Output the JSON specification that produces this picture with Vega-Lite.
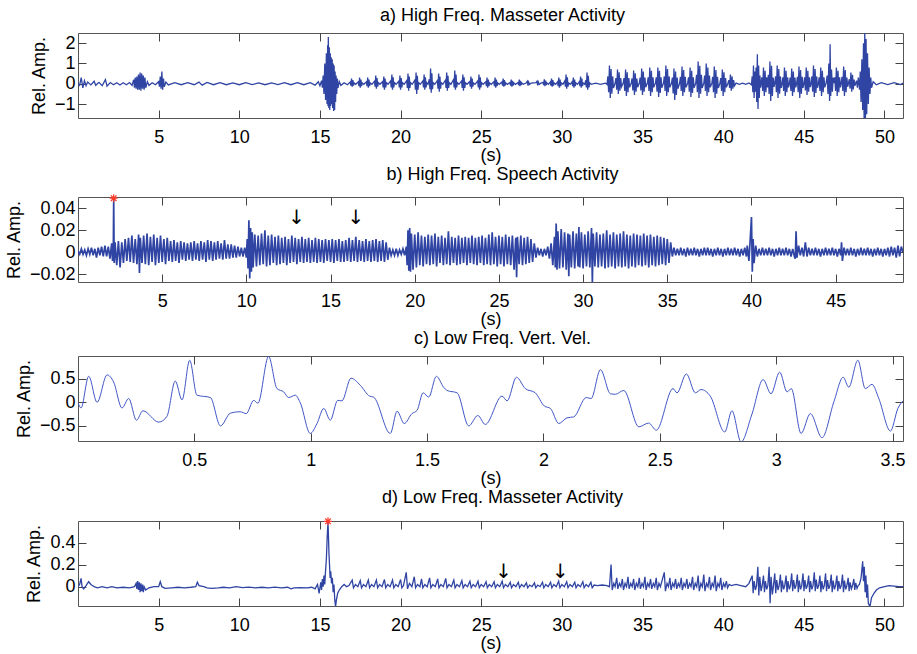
{
"$schema":"https://vega.github.io/schema/vega-lite/v6.json",
"background":"white",
"padding":{"left":4,"top":6,"right":0,"bottom":0},
"config":{
"font":"Liberation Sans",
"view":{"stroke":"#555","strokeWidth":1},
"axis":{"grid":false,"domain":false,"tickColor":"#444","tickSize":-8,"tickWidth":1,"labelFontSize":18,"labelColor":"#000","labelFont":"Liberation Sans","titleFontSize":18,"titleFontWeight":"normal","titleColor":"#000","titleFont":"Liberation Sans","labelFlush":false,"labelOverlap":false},
"axisX":{"titlePadding":0,"labelPadding":18},
"axisY":{"titlePadding":6,"labelPadding":11},
"title":{"fontSize":18,"fontWeight":"normal","color":"#000","font":"Liberation Sans","dx":12,"offset":8},
"concat":{"spacing":0}
},
"datasets":{
"a":[{"t":0,"v":0.02},{"t":0.1,"v":-0.08},{"t":0.2,"v":0.3},{"t":0.3,"v":-0.2},{"t":0.4,"v":0.15},{"t":0.5,"v":-0.1},{"t":0.6,"v":0.08},{"t":0.8,"v":-0.06},{"t":1.0,"v":0.12},{"t":1.1,"v":-0.08},{"t":1.3,"v":0.07},{"t":1.5,"v":-0.1},{"t":1.7,"v":0.2},{"t":1.8,"v":-0.12},{"t":2.0,"v":0.06},{"t":2.2,"v":-0.05},{"t":2.4,"v":0.05},{"t":2.6,"v":-0.06},{"t":2.8,"v":0.05},{"t":3.0,"v":-0.05},{"t":3.2,"v":0.06},{"t":3.35,"v":-0.08},
{"t":3.45,"v":0.2},{"t":3.5,"v":-0.2},{"t":3.55,"v":0.3},{"t":3.6,"v":-0.25},{"t":3.65,"v":0.35},{"t":3.7,"v":-0.3},{"t":3.75,"v":0.45},{"t":3.8,"v":-0.3},{"t":3.85,"v":0.55},{"t":3.9,"v":-0.35},{"t":3.95,"v":0.5},{"t":4.0,"v":-0.25},{"t":4.05,"v":0.4},{"t":4.1,"v":-0.3},{"t":4.15,"v":0.3},{"t":4.2,"v":-0.2},{"t":4.3,"v":0.1},{"t":4.4,"v":-0.08},{"t":4.6,"v":0.05},{"t":4.8,"v":-0.05},
{"t":5.0,"v":0.1},{"t":5.05,"v":-0.15},{"t":5.1,"v":0.35},{"t":5.15,"v":-0.25},{"t":5.2,"v":0.6},{"t":5.25,"v":-0.3},{"t":5.3,"v":0.25},{"t":5.35,"v":-0.15},{"t":5.45,"v":0.08},{"t":5.6,"v":-0.06},
{"t":6.0,"v":0.05},{"t":6.4,"v":-0.05},{"t":6.8,"v":0.05},{"t":7.2,"v":-0.05},{"t":7.5,"v":0.08},{"t":7.7,"v":-0.07},{"t":8.0,"v":0.06},{"t":8.4,"v":-0.05},{"t":8.8,"v":0.05},{"t":9.2,"v":-0.05},{"t":9.6,"v":0.04},{"t":10.0,"v":-0.05},{"t":10.4,"v":0.05},{"t":10.8,"v":-0.04},{"t":11.2,"v":0.04},{"t":11.6,"v":-0.05},{"t":12.0,"v":0.04},{"t":12.4,"v":-0.04},{"t":12.8,"v":0.05},{"t":13.2,"v":-0.05},{"t":13.6,"v":0.05},{"t":14.0,"v":-0.05},{"t":14.4,"v":0.05},{"t":14.7,"v":-0.07},{"t":14.9,"v":0.1},{"t":15.0,"v":-0.1},{"t":15.1,"v":0.15},{"t":15.15,"v":-0.2},
{"t":15.2,"v":0.4},{"t":15.25,"v":-0.5},{"t":15.3,"v":1.0},{"t":15.35,"v":-0.8},{"t":15.4,"v":1.5},{"t":15.44,"v":-1.0},{"t":15.48,"v":1.9},{"t":15.5,"v":-1.1},{"t":15.52,"v":2.3},{"t":15.55,"v":-1.2},{"t":15.58,"v":1.8},{"t":15.61,"v":-1.3},{"t":15.64,"v":1.5},{"t":15.67,"v":-1.1},{"t":15.7,"v":1.3},{"t":15.73,"v":-1.0},{"t":15.76,"v":1.2},{"t":15.79,"v":-1.2},{"t":15.82,"v":1.0},{"t":15.85,"v":-1.35},{"t":15.88,"v":0.9},{"t":15.91,"v":-1.3},{"t":15.94,"v":0.6},{"t":15.97,"v":-0.9},{"t":16.0,"v":0.4},{"t":16.04,"v":-0.5},{"t":16.08,"v":0.25},{"t":16.12,"v":-0.2},{"t":16.2,"v":0.1},{"t":16.3,"v":-0.08},{"t":16.5,"v":0.05},{"t":16.7,"v":-0.05},
{"t":16.88,"v":0.08},{"t":16.92,"v":-0.09},{"t":16.96,"v":0.25},{"t":17.0,"v":-0.15},{"t":17.04,"v":0.18},{"t":17.08,"v":-0.09},{"t":17.12,"v":0.04},{"t":17.22,"v":-0.03},
{"t":17.38,"v":0.09},{"t":17.42,"v":-0.12},{"t":17.46,"v":0.3},{"t":17.5,"v":-0.2},{"t":17.54,"v":0.21},{"t":17.58,"v":-0.12},{"t":17.62,"v":0.04},{"t":17.72,"v":-0.03},
{"t":17.88,"v":0.09},{"t":17.92,"v":-0.12},{"t":17.96,"v":0.3},{"t":18.0,"v":-0.2},{"t":18.04,"v":0.21},{"t":18.08,"v":-0.12},{"t":18.12,"v":0.04},{"t":18.22,"v":-0.03},
{"t":18.38,"v":0.12},{"t":18.42,"v":-0.15},{"t":18.46,"v":0.4},{"t":18.5,"v":-0.25},{"t":18.54,"v":0.28},{"t":18.58,"v":-0.15},{"t":18.62,"v":0.05},{"t":18.72,"v":-0.03},
{"t":18.88,"v":0.1},{"t":18.92,"v":-0.18},{"t":18.96,"v":0.35},{"t":19.0,"v":-0.3},{"t":19.04,"v":0.25},{"t":19.08,"v":-0.18},{"t":19.12,"v":0.05},{"t":19.22,"v":-0.03},
{"t":19.38,"v":0.14},{"t":19.42,"v":-0.18},{"t":19.46,"v":0.45},{"t":19.5,"v":-0.3},{"t":19.54,"v":0.32},{"t":19.58,"v":-0.18},{"t":19.62,"v":0.05},{"t":19.72,"v":-0.03},
{"t":19.88,"v":0.12},{"t":19.92,"v":-0.18},{"t":19.96,"v":0.4},{"t":20.0,"v":-0.3},{"t":20.04,"v":0.28},{"t":20.08,"v":-0.18},{"t":20.12,"v":0.05},{"t":20.22,"v":-0.03},
{"t":20.38,"v":0.15},{"t":20.42,"v":-0.21},{"t":20.46,"v":0.5},{"t":20.5,"v":-0.35},{"t":20.54,"v":0.35},{"t":20.58,"v":-0.21},{"t":20.62,"v":0.05},{"t":20.72,"v":-0.03},
{"t":20.88,"v":0.17},{"t":20.92,"v":-0.3},{"t":20.96,"v":0.55},{"t":21.0,"v":-0.5},{"t":21.04,"v":0.39},{"t":21.08,"v":-0.3},{"t":21.12,"v":0.05},{"t":21.22,"v":-0.03},
{"t":21.38,"v":0.14},{"t":21.42,"v":-0.18},{"t":21.46,"v":0.45},{"t":21.5,"v":-0.3},{"t":21.54,"v":0.32},{"t":21.58,"v":-0.18},{"t":21.62,"v":0.05},{"t":21.7,"v":-0.03},
{"t":21.78,"v":0.22},{"t":21.82,"v":-0.27},{"t":21.86,"v":0.75},{"t":21.9,"v":-0.45},{"t":21.94,"v":0.52},{"t":21.98,"v":-0.27},{"t":22.02,"v":0.05},{"t":22.12,"v":-0.03},
{"t":22.28,"v":0.15},{"t":22.32,"v":-0.24},{"t":22.36,"v":0.5},{"t":22.4,"v":-0.4},{"t":22.44,"v":0.35},{"t":22.48,"v":-0.24},{"t":22.52,"v":0.05},{"t":22.62,"v":-0.03},
{"t":22.78,"v":0.17},{"t":22.82,"v":-0.21},{"t":22.86,"v":0.55},{"t":22.9,"v":-0.35},{"t":22.94,"v":0.39},{"t":22.98,"v":-0.21},{"t":23.02,"v":0.05},{"t":23.12,"v":-0.03},
{"t":23.28,"v":0.2},{"t":23.32,"v":-0.18},{"t":23.36,"v":0.65},{"t":23.4,"v":-0.3},{"t":23.44,"v":0.45},{"t":23.48,"v":-0.18},{"t":23.52,"v":0.05},{"t":23.62,"v":-0.03},
{"t":23.78,"v":0.14},{"t":23.82,"v":-0.21},{"t":23.86,"v":0.45},{"t":23.9,"v":-0.35},{"t":23.94,"v":0.32},{"t":23.98,"v":-0.21},{"t":24.02,"v":0.05},{"t":24.12,"v":-0.03},
{"t":24.28,"v":0.1},{"t":24.32,"v":-0.15},{"t":24.36,"v":0.35},{"t":24.4,"v":-0.25},{"t":24.44,"v":0.25},{"t":24.48,"v":-0.15},{"t":24.52,"v":0.04},{"t":24.62,"v":-0.03},
{"t":24.78,"v":0.14},{"t":24.82,"v":-0.18},{"t":24.86,"v":0.45},{"t":24.9,"v":-0.3},{"t":24.94,"v":0.32},{"t":24.98,"v":-0.18},{"t":25.02,"v":0.05},{"t":25.12,"v":-0.03},
{"t":25.28,"v":0.09},{"t":25.32,"v":-0.12},{"t":25.36,"v":0.3},{"t":25.4,"v":-0.2},{"t":25.44,"v":0.21},{"t":25.48,"v":-0.12},{"t":25.52,"v":0.04},{"t":25.62,"v":-0.03},
{"t":25.78,"v":0.09},{"t":25.82,"v":-0.12},{"t":25.86,"v":0.3},{"t":25.9,"v":-0.2},{"t":25.94,"v":0.21},{"t":25.98,"v":-0.12},{"t":26.02,"v":0.04},{"t":26.12,"v":-0.03},
{"t":26.28,"v":0.08},{"t":26.32,"v":-0.09},{"t":26.36,"v":0.25},{"t":26.4,"v":-0.15},{"t":26.44,"v":0.18},{"t":26.48,"v":-0.09},{"t":26.52,"v":0.04},{"t":26.62,"v":-0.03},
{"t":26.78,"v":0.06},{"t":26.82,"v":-0.09},{"t":26.86,"v":0.2},{"t":26.9,"v":-0.15},{"t":26.94,"v":0.14},{"t":26.98,"v":-0.09},{"t":27.02,"v":0.04},{"t":27.12,"v":-0.03},
{"t":27.28,"v":0.06},{"t":27.32,"v":-0.07},{"t":27.36,"v":0.2},{"t":27.4,"v":-0.12},{"t":27.44,"v":0.14},{"t":27.48,"v":-0.07},{"t":27.52,"v":0.03},{"t":27.62,"v":-0.03},
{"t":27.8,"v":0.05},{"t":27.86,"v":0.12},{"t":27.9,"v":-0.1},{"t":27.94,"v":0.08},{"t":28.0,"v":-0.04},{"t":28.1,"v":0.03},
{"t":28.4,"v":0.05},{"t":28.46,"v":0.12},{"t":28.5,"v":-0.08},{"t":28.54,"v":0.08},{"t":28.6,"v":-0.04},{"t":28.7,"v":0.03},
{"t":28.83,"v":0.07},{"t":28.87,"v":-0.07},{"t":28.91,"v":0.22},{"t":28.95,"v":-0.12},{"t":28.99,"v":0.15},{"t":29.03,"v":-0.07},{"t":29.07,"v":0.04},{"t":29.17,"v":-0.03},
{"t":29.28,"v":0.08},{"t":29.32,"v":-0.09},{"t":29.36,"v":0.25},{"t":29.4,"v":-0.15},{"t":29.44,"v":0.18},{"t":29.48,"v":-0.09},{"t":29.52,"v":0.04},{"t":29.62,"v":-0.03},
{"t":29.73,"v":0.09},{"t":29.77,"v":-0.12},{"t":29.81,"v":0.3},{"t":29.85,"v":-0.2},{"t":29.89,"v":0.21},{"t":29.93,"v":-0.12},{"t":29.97,"v":0.04},{"t":30.07,"v":-0.03},
{"t":30.18,"v":0.14},{"t":30.22,"v":-0.15},{"t":30.26,"v":0.45},{"t":30.3,"v":-0.25},{"t":30.34,"v":0.32},{"t":30.38,"v":-0.15},{"t":30.42,"v":0.04},{"t":30.52,"v":-0.03},
{"t":30.63,"v":0.09},{"t":30.67,"v":-0.12},{"t":30.71,"v":0.3},{"t":30.75,"v":-0.2},{"t":30.79,"v":0.21},{"t":30.83,"v":-0.12},{"t":30.87,"v":0.04},{"t":30.97,"v":-0.03},
{"t":31.08,"v":0.1},{"t":31.12,"v":-0.12},{"t":31.16,"v":0.35},{"t":31.2,"v":-0.2},{"t":31.24,"v":0.25},{"t":31.28,"v":-0.12},{"t":31.32,"v":0.04},{"t":31.42,"v":-0.03},
{"t":31.48,"v":0.17},{"t":31.52,"v":-0.18},{"t":31.56,"v":0.55},{"t":31.6,"v":-0.3},{"t":31.64,"v":0.39},{"t":31.68,"v":-0.18},{"t":31.72,"v":0.04},{"t":31.82,"v":-0.03},
{"t":32.1,"v":0.03},{"t":32.4,"v":-0.03},{"t":32.7,"v":0.03},{"t":32.8,"v":-0.04},
{"t":32.85,"v":0.36},{"t":32.9,"v":-0.42},{"t":32.95,"v":0.9},{"t":33.0,"v":-0.7},{"t":33.05,"v":0.72},{"t":33.1,"v":-0.49},{"t":33.15,"v":0.36},{"t":33.2,"v":-0.21},{"t":33.3,"v":0.03},
{"t":33.35,"v":0.28},{"t":33.4,"v":-0.3},{"t":33.45,"v":0.7},{"t":33.5,"v":-0.5},{"t":33.55,"v":0.56},{"t":33.6,"v":-0.35},{"t":33.65,"v":0.28},{"t":33.7,"v":-0.15},{"t":33.8,"v":0.03},
{"t":33.85,"v":0.28},{"t":33.9,"v":-0.36},{"t":33.95,"v":0.7},{"t":34.0,"v":-0.6},{"t":34.05,"v":0.56},{"t":34.1,"v":-0.42},{"t":34.15,"v":0.28},{"t":34.2,"v":-0.18},{"t":34.3,"v":0.03},
{"t":34.35,"v":0.26},{"t":34.4,"v":-0.33},{"t":34.45,"v":0.65},{"t":34.5,"v":-0.55},{"t":34.55,"v":0.52},{"t":34.6,"v":-0.39},{"t":34.65,"v":0.26},{"t":34.7,"v":-0.17},{"t":34.8,"v":0.03},
{"t":34.85,"v":0.3},{"t":34.9,"v":-0.33},{"t":34.95,"v":0.75},{"t":35.0,"v":-0.55},{"t":35.05,"v":0.6},{"t":35.1,"v":-0.39},{"t":35.15,"v":0.3},{"t":35.2,"v":-0.17},{"t":35.3,"v":0.03},
{"t":35.35,"v":0.32},{"t":35.4,"v":-0.36},{"t":35.45,"v":0.8},{"t":35.5,"v":-0.6},{"t":35.55,"v":0.64},{"t":35.6,"v":-0.42},{"t":35.65,"v":0.32},{"t":35.7,"v":-0.18},{"t":35.8,"v":0.03},
{"t":35.85,"v":0.32},{"t":35.9,"v":-0.39},{"t":35.95,"v":0.8},{"t":36.0,"v":-0.65},{"t":36.05,"v":0.64},{"t":36.1,"v":-0.46},{"t":36.15,"v":0.32},{"t":36.2,"v":-0.2},{"t":36.3,"v":0.03},
{"t":36.35,"v":0.36},{"t":36.4,"v":-0.36},{"t":36.45,"v":0.9},{"t":36.5,"v":-0.6},{"t":36.55,"v":0.72},{"t":36.6,"v":-0.42},{"t":36.65,"v":0.36},{"t":36.7,"v":-0.18},{"t":36.8,"v":0.03},
{"t":36.85,"v":0.3},{"t":36.9,"v":-0.48},{"t":36.95,"v":0.75},{"t":37.0,"v":-0.8},{"t":37.05,"v":0.6},{"t":37.1,"v":-0.56},{"t":37.15,"v":0.3},{"t":37.2,"v":-0.24},{"t":37.3,"v":0.03},
{"t":37.35,"v":0.34},{"t":37.4,"v":-0.36},{"t":37.45,"v":0.85},{"t":37.5,"v":-0.6},{"t":37.55,"v":0.68},{"t":37.6,"v":-0.42},{"t":37.65,"v":0.34},{"t":37.7,"v":-0.18},{"t":37.8,"v":0.03},
{"t":37.85,"v":0.32},{"t":37.9,"v":-0.39},{"t":37.95,"v":0.8},{"t":38.0,"v":-0.65},{"t":38.05,"v":0.64},{"t":38.1,"v":-0.46},{"t":38.15,"v":0.32},{"t":38.2,"v":-0.2},{"t":38.3,"v":0.03},
{"t":38.35,"v":0.44},{"t":38.4,"v":-0.42},{"t":38.45,"v":1.1},{"t":38.5,"v":-0.7},{"t":38.55,"v":0.88},{"t":38.6,"v":-0.49},{"t":38.65,"v":0.44},{"t":38.7,"v":-0.21},{"t":38.8,"v":0.03},
{"t":38.85,"v":0.4},{"t":38.9,"v":-0.36},{"t":38.95,"v":1.0},{"t":39.0,"v":-0.6},{"t":39.05,"v":0.8},{"t":39.1,"v":-0.42},{"t":39.15,"v":0.4},{"t":39.2,"v":-0.18},{"t":39.3,"v":0.03},
{"t":39.35,"v":0.34},{"t":39.4,"v":-0.42},{"t":39.45,"v":0.85},{"t":39.5,"v":-0.7},{"t":39.55,"v":0.68},{"t":39.6,"v":-0.49},{"t":39.65,"v":0.34},{"t":39.7,"v":-0.21},{"t":39.8,"v":0.03},
{"t":39.85,"v":0.28},{"t":39.9,"v":-0.36},{"t":39.95,"v":0.7},{"t":40.0,"v":-0.6},{"t":40.05,"v":0.56},{"t":40.1,"v":-0.42},{"t":40.15,"v":0.28},{"t":40.2,"v":-0.18},{"t":40.3,"v":0.03},
{"t":40.35,"v":0.18},{"t":40.4,"v":-0.21},{"t":40.45,"v":0.45},{"t":40.5,"v":-0.35},{"t":40.55,"v":0.36},{"t":40.6,"v":-0.25},{"t":40.65,"v":0.18},{"t":40.7,"v":-0.1},{"t":40.8,"v":0.03},
{"t":41.0,"v":-0.03},{"t":41.2,"v":0.03},{"t":41.4,"v":-0.03},{"t":41.6,"v":0.04},{"t":41.75,"v":-0.05},
{"t":41.8,"v":0.36},{"t":41.84,"v":-0.42},{"t":41.88,"v":0.9},{"t":41.92,"v":-0.7},{"t":41.96,"v":0.6},{"t":42.0,"v":-0.4},
{"t":42.04,"v":0.8},{"t":42.08,"v":-0.9},{"t":42.12,"v":1.45},{"t":42.16,"v":-1.25},{"t":42.2,"v":0.9},{"t":42.24,"v":-0.7},{"t":42.28,"v":0.4},{"t":42.32,"v":-0.2},{"t":42.36,"v":0.03},
{"t":42.4,"v":0.32},{"t":42.45,"v":-0.36},{"t":42.5,"v":0.8},{"t":42.55,"v":-0.6},{"t":42.6,"v":0.64},{"t":42.65,"v":-0.42},{"t":42.7,"v":0.32},{"t":42.75,"v":-0.18},
{"t":42.8,"v":0.44},{"t":42.85,"v":-0.5},{"t":42.9,"v":1.1},{"t":42.95,"v":-0.85},{"t":43.0,"v":0.88},{"t":43.05,"v":-0.6},{"t":43.1,"v":0.3},{"t":43.15,"v":-0.15},{"t":43.2,"v":0.03},
{"t":43.25,"v":0.36},{"t":43.3,"v":-0.42},{"t":43.35,"v":0.9},{"t":43.4,"v":-0.7},{"t":43.45,"v":0.72},{"t":43.5,"v":-0.49},{"t":43.55,"v":0.36},{"t":43.6,"v":-0.21},{"t":43.66,"v":0.03},
{"t":43.7,"v":0.32},{"t":43.75,"v":-0.36},{"t":43.8,"v":0.8},{"t":43.85,"v":-0.6},{"t":43.9,"v":0.64},{"t":43.95,"v":-0.42},{"t":44.0,"v":0.32},{"t":44.05,"v":-0.18},{"t":44.11,"v":0.03},
{"t":44.15,"v":0.3},{"t":44.2,"v":-0.36},{"t":44.25,"v":0.75},{"t":44.3,"v":-0.6},{"t":44.35,"v":0.6},{"t":44.4,"v":-0.42},{"t":44.45,"v":0.3},{"t":44.5,"v":-0.18},{"t":44.56,"v":0.03},
{"t":44.6,"v":0.34},{"t":44.65,"v":-0.42},{"t":44.7,"v":0.85},{"t":44.75,"v":-0.7},{"t":44.8,"v":0.68},{"t":44.85,"v":-0.49},{"t":44.9,"v":0.34},{"t":44.95,"v":-0.21},{"t":45.01,"v":0.03},
{"t":45.05,"v":0.32},{"t":45.1,"v":-0.33},{"t":45.15,"v":0.8},{"t":45.2,"v":-0.55},{"t":45.25,"v":0.64},{"t":45.3,"v":-0.39},{"t":45.35,"v":0.32},{"t":45.4,"v":-0.17},{"t":45.46,"v":0.03},
{"t":45.5,"v":0.36},{"t":45.55,"v":-0.39},{"t":45.6,"v":0.9},{"t":45.65,"v":-0.65},{"t":45.7,"v":0.72},{"t":45.75,"v":-0.46},{"t":45.8,"v":0.36},{"t":45.85,"v":-0.2},{"t":45.91,"v":0.03},
{"t":45.95,"v":0.32},{"t":46.0,"v":-0.36},{"t":46.05,"v":0.8},{"t":46.1,"v":-0.6},{"t":46.15,"v":0.64},{"t":46.2,"v":-0.42},{"t":46.25,"v":0.32},{"t":46.3,"v":-0.18},{"t":46.38,"v":0.03},
{"t":46.45,"v":0.4},{"t":46.5,"v":-0.5},{"t":46.55,"v":1.0},{"t":46.6,"v":-0.85},{"t":46.63,"v":1.95},{"t":46.67,"v":-0.6},{"t":46.72,"v":0.7},{"t":46.77,"v":-0.4},{"t":46.82,"v":0.3},{"t":46.87,"v":0.03},
{"t":46.92,"v":0.32},{"t":46.97,"v":-0.36},{"t":47.02,"v":0.8},{"t":47.07,"v":-0.6},{"t":47.12,"v":0.64},{"t":47.17,"v":-0.42},{"t":47.22,"v":0.32},{"t":47.27,"v":-0.18},{"t":47.32,"v":0.03},
{"t":47.37,"v":0.34},{"t":47.42,"v":-0.36},{"t":47.47,"v":0.85},{"t":47.52,"v":-0.6},{"t":47.57,"v":0.68},{"t":47.62,"v":-0.42},{"t":47.67,"v":0.3},{"t":47.72,"v":-0.15},{"t":47.77,"v":0.03},
{"t":47.82,"v":0.22},{"t":47.87,"v":-0.24},{"t":47.92,"v":0.55},{"t":47.97,"v":-0.4},{"t":48.02,"v":0.44},{"t":48.07,"v":-0.28},{"t":48.12,"v":0.2},{"t":48.17,"v":-0.1},{"t":48.22,"v":0.03},
{"t":48.27,"v":0.15},{"t":48.32,"v":-0.2},{"t":48.38,"v":0.3},{"t":48.45,"v":-0.3},
{"t":48.5,"v":0.6},{"t":48.55,"v":-0.9},{"t":48.6,"v":1.2},{"t":48.65,"v":-1.3},{"t":48.7,"v":2.0},{"t":48.74,"v":-1.75},{"t":48.78,"v":2.6},{"t":48.82,"v":-1.8},{"t":48.86,"v":2.2},{"t":48.9,"v":-1.5},{"t":48.95,"v":1.5},{"t":49.0,"v":-1.0},{"t":49.05,"v":0.8},{"t":49.1,"v":-0.5},{"t":49.15,"v":0.3},{"t":49.2,"v":-0.2},{"t":49.3,"v":0.1},{"t":49.5,"v":-0.05},{"t":49.8,"v":0.05},{"t":50.2,"v":-0.04},{"t":50.6,"v":0.05},{"t":51.0,"v":-0.04},{"t":51.15,"v":0.03}],
"b":[{"t":0.0,"v":0.001},{"t":0.1,"v":-0.002},{"t":0.2,"v":0.003},{"t":0.3,"v":-0.002},{"t":0.4,"v":0.002},{"t":0.5,"v":-0.003},{"t":0.6,"v":0.003},{"t":0.7,"v":-0.002},{"t":0.8,"v":0.004},{"t":0.9,"v":-0.003},{"t":1.0,"v":0.003},{"t":1.1,"v":-0.005},{"t":1.2,"v":0.004},{"t":1.3,"v":-0.003},{"t":1.4,"v":0.005},{"t":1.5,"v":-0.004},{"t":1.6,"v":0.006},{"t":1.7,"v":-0.004},{"t":1.8,"v":0.005},{"t":1.9,"v":-0.006},{"t":2.0,"v":0.008},{"t":2.05,"v":-0.008},{"t":2.1,"v":0.006},{"t":2.12,"v":0.049},{"t":2.15,"v":-0.01},{"t":2.2,"v":0.009},{"t":2.3,"v":-0.012},{"t":2.4,"v":0.01},{"t":2.5,"v":-0.014},{"t":2.6,"v":0.009},{"t":2.7,"v":-0.01},{"t":2.8,"v":0.012},{"t":2.9,"v":-0.008},{"t":3.0,"v":0.013},{"t":3.1,"v":-0.009},{"t":3.2,"v":0.015},{"t":3.3,"v":-0.01},{"t":3.4,"v":0.012},{"t":3.5,"v":-0.011},{"t":3.6,"v":0.016},{"t":3.65,"v":-0.019},{"t":3.7,"v":0.013},{"t":3.8,"v":-0.01},{"t":3.9,"v":0.015},{"t":4.0,"v":-0.011},{"t":4.1,"v":0.017},{"t":4.2,"v":-0.012},{"t":4.3,"v":0.014},{"t":4.4,"v":-0.009},{"t":4.5,"v":0.016},{"t":4.6,"v":-0.012},{"t":4.7,"v":0.013},{"t":4.8,"v":-0.01},{"t":4.9,"v":0.015},{"t":5.0,"v":-0.009},{"t":5.1,"v":0.012},{"t":5.2,"v":-0.011},{"t":5.3,"v":0.013},{"t":5.4,"v":-0.008},{"t":5.5,"v":0.01},{"t":5.6,"v":-0.009},{"t":5.7,"v":0.011},{"t":5.8,"v":-0.008},{"t":5.9,"v":0.009},{"t":6.0,"v":-0.01},{"t":6.1,"v":0.01},{"t":6.2,"v":-0.007},{"t":6.3,"v":0.009},{"t":6.4,"v":-0.008},{"t":6.5,"v":0.008},{"t":6.6,"v":-0.007},{"t":6.7,"v":0.009},{"t":6.8,"v":-0.008},{"t":6.9,"v":0.01},{"t":7.0,"v":-0.007},{"t":7.1,"v":0.008},{"t":7.2,"v":-0.008},{"t":7.3,"v":0.01},{"t":7.4,"v":-0.007},{"t":7.5,"v":0.009},{"t":7.6,"v":-0.009},{"t":7.7,"v":0.011},{"t":7.8,"v":-0.007},{"t":7.9,"v":0.01},{"t":8.0,"v":-0.008},{"t":8.1,"v":0.009},{"t":8.2,"v":-0.007},{"t":8.3,"v":0.01},{"t":8.4,"v":-0.006},{"t":8.5,"v":0.008},{"t":8.6,"v":-0.007},{"t":8.7,"v":0.011},{"t":8.8,"v":-0.006},{"t":8.9,"v":0.007},{"t":9.0,"v":-0.006},{"t":9.1,"v":0.007},{"t":9.2,"v":-0.005},{"t":9.3,"v":0.006},{"t":9.4,"v":-0.005},{"t":9.5,"v":0.005},{"t":9.6,"v":-0.004},{"t":9.7,"v":0.004},{"t":9.8,"v":-0.004},{"t":9.9,"v":0.004},{"t":10.0,"v":-0.005},{"t":10.05,"v":0.012},{"t":10.1,"v":-0.015},{"t":10.15,"v":0.029},{"t":10.2,"v":-0.024},{"t":10.25,"v":0.022},{"t":10.3,"v":-0.018},{"t":10.35,"v":0.018},{"t":10.4,"v":-0.014},{"t":10.5,"v":0.016},{"t":10.6,"v":-0.013},{"t":10.7,"v":0.015},{"t":10.8,"v":-0.012},{"t":10.9,"v":0.017},{"t":11.0,"v":-0.011},{"t":11.1,"v":0.02},{"t":11.2,"v":-0.013},{"t":11.3,"v":0.015},{"t":11.4,"v":-0.012},{"t":11.5,"v":0.016},{"t":11.6,"v":-0.01},{"t":11.7,"v":0.014},{"t":11.8,"v":-0.012},{"t":11.9,"v":0.015},{"t":12.0,"v":-0.011},{"t":12.1,"v":0.013},{"t":12.2,"v":-0.01},{"t":12.3,"v":0.014},{"t":12.4,"v":-0.012},{"t":12.5,"v":0.012},{"t":12.6,"v":-0.01},{"t":12.7,"v":0.015},{"t":12.8,"v":-0.009},{"t":12.9,"v":0.013},{"t":13.0,"v":-0.011},{"t":13.1,"v":0.012},{"t":13.2,"v":-0.009},{"t":13.3,"v":0.014},{"t":13.4,"v":-0.01},{"t":13.5,"v":0.012},{"t":13.6,"v":-0.009},{"t":13.7,"v":0.013},{"t":13.8,"v":-0.01},{"t":13.9,"v":0.011},{"t":14.0,"v":-0.009},{"t":14.1,"v":0.013},{"t":14.2,"v":-0.01},{"t":14.3,"v":0.012},{"t":14.4,"v":-0.009},{"t":14.5,"v":0.011},{"t":14.6,"v":-0.01},{"t":14.7,"v":0.012},{"t":14.8,"v":-0.008},{"t":14.9,"v":0.011},{"t":15.0,"v":-0.009},{"t":15.1,"v":0.012},{"t":15.2,"v":-0.01},{"t":15.3,"v":0.011},{"t":15.4,"v":-0.008},{"t":15.5,"v":0.012},{"t":15.6,"v":-0.009},{"t":15.7,"v":0.01},{"t":15.8,"v":-0.009},{"t":15.9,"v":0.011},{"t":16.0,"v":-0.008},{"t":16.1,"v":0.013},{"t":16.2,"v":-0.009},{"t":16.3,"v":0.011},{"t":16.4,"v":-0.008},{"t":16.5,"v":0.014},{"t":16.6,"v":-0.009},{"t":16.7,"v":0.011},{"t":16.8,"v":-0.008},{"t":16.9,"v":0.01},{"t":17.0,"v":-0.009},{"t":17.1,"v":0.012},{"t":17.2,"v":-0.008},{"t":17.3,"v":0.01},{"t":17.4,"v":-0.009},{"t":17.5,"v":0.011},{"t":17.6,"v":-0.008},{"t":17.7,"v":0.012},{"t":17.8,"v":-0.009},{"t":17.9,"v":0.01},{"t":18.0,"v":-0.008},{"t":18.1,"v":0.011},{"t":18.2,"v":-0.009},{"t":18.3,"v":0.009},{"t":18.4,"v":-0.007},{"t":18.5,"v":0.004},{"t":18.6,"v":-0.003},{"t":18.7,"v":0.002},{"t":18.8,"v":-0.003},{"t":18.9,"v":0.003},{"t":19.0,"v":-0.003},{"t":19.1,"v":0.002},{"t":19.2,"v":-0.002},{"t":19.3,"v":0.003},{"t":19.4,"v":-0.003},{"t":19.5,"v":0.005},{"t":19.55,"v":-0.012},{"t":19.6,"v":0.02},{"t":19.65,"v":-0.017},{"t":19.7,"v":0.022},{"t":19.75,"v":-0.018},{"t":19.8,"v":0.017},{"t":19.9,"v":-0.016},{"t":20.0,"v":0.016},{"t":20.1,"v":-0.014},{"t":20.2,"v":0.018},{"t":20.3,"v":-0.012},{"t":20.4,"v":0.015},{"t":20.5,"v":-0.013},{"t":20.6,"v":0.014},{"t":20.7,"v":-0.011},{"t":20.8,"v":0.016},{"t":20.9,"v":-0.012},{"t":21.0,"v":0.015},{"t":21.1,"v":-0.011},{"t":21.2,"v":0.017},{"t":21.3,"v":-0.013},{"t":21.4,"v":0.014},{"t":21.5,"v":-0.01},{"t":21.6,"v":0.015},{"t":21.7,"v":-0.012},{"t":21.8,"v":0.013},{"t":21.9,"v":-0.011},{"t":22.0,"v":0.019},{"t":22.1,"v":-0.012},{"t":22.2,"v":0.014},{"t":22.3,"v":-0.01},{"t":22.4,"v":0.013},{"t":22.5,"v":-0.012},{"t":22.6,"v":0.015},{"t":22.7,"v":-0.011},{"t":22.8,"v":0.013},{"t":22.9,"v":-0.01},{"t":23.0,"v":0.014},{"t":23.1,"v":-0.012},{"t":23.2,"v":0.013},{"t":23.3,"v":-0.01},{"t":23.4,"v":0.015},{"t":23.5,"v":-0.011},{"t":23.6,"v":0.013},{"t":23.7,"v":-0.012},{"t":23.8,"v":0.014},{"t":23.9,"v":-0.01},{"t":24.0,"v":0.015},{"t":24.1,"v":-0.012},{"t":24.2,"v":0.013},{"t":24.3,"v":-0.011},{"t":24.4,"v":0.016},{"t":24.5,"v":-0.012},{"t":24.6,"v":0.018},{"t":24.7,"v":-0.011},{"t":24.8,"v":0.014},{"t":24.9,"v":-0.013},{"t":25.0,"v":0.015},{"t":25.1,"v":-0.011},{"t":25.2,"v":0.014},{"t":25.3,"v":-0.013},{"t":25.4,"v":0.016},{"t":25.5,"v":-0.011},{"t":25.6,"v":0.014},{"t":25.7,"v":-0.012},{"t":25.8,"v":0.015},{"t":25.9,"v":-0.016},{"t":26.0,"v":0.013},{"t":26.05,"v":-0.023},{"t":26.1,"v":0.014},{"t":26.2,"v":-0.011},{"t":26.3,"v":0.015},{"t":26.4,"v":-0.012},{"t":26.5,"v":0.013},{"t":26.6,"v":-0.011},{"t":26.7,"v":0.014},{"t":26.8,"v":-0.01},{"t":26.9,"v":0.012},{"t":27.0,"v":-0.009},{"t":27.1,"v":0.008},{"t":27.2,"v":-0.005},{"t":27.3,"v":0.004},{"t":27.4,"v":-0.003},{"t":27.5,"v":0.003},{"t":27.6,"v":-0.004},{"t":27.7,"v":0.003},{"t":27.8,"v":-0.003},{"t":27.9,"v":0.005},{"t":28.0,"v":-0.006},{"t":28.1,"v":0.008},{"t":28.2,"v":-0.012},{"t":28.3,"v":0.014},{"t":28.35,"v":-0.014},{"t":28.4,"v":0.026},{"t":28.45,"v":-0.016},{"t":28.5,"v":0.019},{"t":28.6,"v":-0.015},{"t":28.7,"v":0.021},{"t":28.8,"v":-0.014},{"t":28.9,"v":0.018},{"t":29.0,"v":-0.016},{"t":29.1,"v":0.017},{"t":29.15,"v":-0.022},{"t":29.2,"v":0.016},{"t":29.3,"v":-0.014},{"t":29.4,"v":0.019},{"t":29.5,"v":-0.015},{"t":29.6,"v":0.017},{"t":29.7,"v":-0.013},{"t":29.75,"v":0.023},{"t":29.8,"v":-0.014},{"t":29.9,"v":0.018},{"t":30.0,"v":-0.015},{"t":30.1,"v":0.016},{"t":30.2,"v":-0.013},{"t":30.3,"v":0.019},{"t":30.4,"v":-0.014},{"t":30.5,"v":0.022},{"t":30.55,"v":-0.028},{"t":30.6,"v":0.017},{"t":30.7,"v":-0.013},{"t":30.8,"v":0.018},{"t":30.9,"v":-0.014},{"t":31.0,"v":0.016},{"t":31.1,"v":-0.013},{"t":31.2,"v":0.017},{"t":31.3,"v":-0.015},{"t":31.4,"v":0.02},{"t":31.5,"v":-0.014},{"t":31.6,"v":0.016},{"t":31.7,"v":-0.013},{"t":31.8,"v":0.018},{"t":31.9,"v":-0.015},{"t":32.0,"v":0.016},{"t":32.1,"v":-0.013},{"t":32.2,"v":0.017},{"t":32.3,"v":-0.014},{"t":32.4,"v":0.019},{"t":32.5,"v":-0.013},{"t":32.6,"v":0.016},{"t":32.7,"v":-0.015},{"t":32.8,"v":0.015},{"t":32.9,"v":-0.013},{"t":33.0,"v":0.017},{"t":33.1,"v":-0.014},{"t":33.2,"v":0.016},{"t":33.3,"v":-0.012},{"t":33.4,"v":0.015},{"t":33.5,"v":-0.013},{"t":33.6,"v":0.017},{"t":33.7,"v":-0.012},{"t":33.8,"v":0.015},{"t":33.9,"v":-0.014},{"t":34.0,"v":0.016},{"t":34.1,"v":-0.012},{"t":34.2,"v":0.014},{"t":34.3,"v":-0.013},{"t":34.4,"v":0.015},{"t":34.5,"v":-0.012},{"t":34.6,"v":0.014},{"t":34.7,"v":-0.011},{"t":34.8,"v":0.013},{"t":34.9,"v":-0.012},{"t":35.0,"v":0.012},{"t":35.1,"v":-0.01},{"t":35.2,"v":0.009},{"t":35.3,"v":-0.004},{"t":35.4,"v":0.004},{"t":35.5,"v":-0.003},{"t":35.6,"v":0.003},{"t":35.7,"v":-0.003},{"t":35.8,"v":0.004},{"t":35.9,"v":-0.003},{"t":36.0,"v":0.003},{"t":36.1,"v":-0.004},{"t":36.2,"v":0.004},{"t":36.3,"v":-0.003},{"t":36.4,"v":0.003},{"t":36.5,"v":-0.003},{"t":36.6,"v":0.004},{"t":36.7,"v":-0.003},{"t":36.8,"v":0.003},{"t":36.9,"v":-0.004},{"t":37.0,"v":0.003},{"t":37.1,"v":-0.003},{"t":37.2,"v":0.004},{"t":37.3,"v":-0.003},{"t":37.4,"v":0.004},{"t":37.5,"v":-0.003},{"t":37.6,"v":0.003},{"t":37.7,"v":-0.004},{"t":37.8,"v":0.003},{"t":37.9,"v":-0.003},{"t":38.0,"v":0.004},{"t":38.1,"v":-0.003},{"t":38.2,"v":0.003},{"t":38.3,"v":-0.004},{"t":38.4,"v":0.003},{"t":38.5,"v":-0.003},{"t":38.6,"v":0.004},{"t":38.7,"v":-0.003},{"t":38.8,"v":0.003},{"t":38.9,"v":-0.003},{"t":39.0,"v":0.004},{"t":39.1,"v":-0.003},{"t":39.2,"v":0.003},{"t":39.3,"v":-0.004},{"t":39.4,"v":0.003},{"t":39.5,"v":-0.003},{"t":39.6,"v":0.004},{"t":39.7,"v":-0.004},{"t":39.75,"v":0.006},{"t":39.85,"v":-0.008},{"t":39.95,"v":0.018},{"t":40.0,"v":0.032},{"t":40.05,"v":-0.018},{"t":40.1,"v":0.012},{"t":40.15,"v":-0.01},{"t":40.25,"v":0.006},{"t":40.35,"v":-0.004},{"t":40.45,"v":0.003},{"t":40.55,"v":-0.003},{"t":40.65,"v":0.004},{"t":40.75,"v":-0.003},{"t":40.85,"v":0.003},{"t":40.95,"v":-0.003},{"t":41.05,"v":0.004},{"t":41.15,"v":-0.003},{"t":41.25,"v":0.003},{"t":41.35,"v":-0.004},{"t":41.45,"v":0.003},{"t":41.55,"v":-0.003},{"t":41.65,"v":0.004},{"t":41.75,"v":-0.003},{"t":41.85,"v":0.003},{"t":41.95,"v":-0.003},{"t":42.05,"v":0.004},{"t":42.15,"v":-0.003},{"t":42.25,"v":0.003},{"t":42.35,"v":-0.004},{"t":42.45,"v":0.003},{"t":42.55,"v":-0.004},{"t":42.6,"v":-0.006},{"t":42.65,"v":0.019},{"t":42.7,"v":-0.005},{"t":42.8,"v":0.006},{"t":42.9,"v":-0.003},{"t":43.0,"v":0.004},{"t":43.1,"v":-0.004},{"t":43.2,"v":0.009},{"t":43.3,"v":-0.004},{"t":43.4,"v":0.004},{"t":43.5,"v":-0.003},{"t":43.6,"v":0.003},{"t":43.7,"v":-0.003},{"t":43.8,"v":0.004},{"t":43.9,"v":-0.003},{"t":44.0,"v":0.003},{"t":44.1,"v":-0.004},{"t":44.2,"v":0.003},{"t":44.3,"v":-0.003},{"t":44.4,"v":0.004},{"t":44.5,"v":-0.003},{"t":44.6,"v":0.003},{"t":44.7,"v":-0.003},{"t":44.8,"v":0.004},{"t":44.9,"v":-0.003},{"t":45.0,"v":0.003},{"t":45.1,"v":-0.004},{"t":45.2,"v":0.003},{"t":45.3,"v":-0.003},{"t":45.35,"v":0.009},{"t":45.4,"v":-0.008},{"t":45.5,"v":0.004},{"t":45.6,"v":-0.003},{"t":45.7,"v":0.003},{"t":45.8,"v":-0.003},{"t":45.9,"v":0.004},{"t":46.0,"v":-0.003},{"t":46.1,"v":0.003},{"t":46.2,"v":-0.004},{"t":46.3,"v":0.003},{"t":46.4,"v":-0.003},{"t":46.5,"v":0.004},{"t":46.6,"v":-0.003},{"t":46.7,"v":0.003},{"t":46.8,"v":-0.003},{"t":46.9,"v":0.004},{"t":47.0,"v":-0.003},{"t":47.1,"v":0.003},{"t":47.2,"v":-0.004},{"t":47.3,"v":0.003},{"t":47.4,"v":-0.003},{"t":47.5,"v":0.004},{"t":47.6,"v":-0.003},{"t":47.7,"v":0.003},{"t":47.8,"v":-0.004},{"t":47.9,"v":0.003},{"t":48.0,"v":-0.003},{"t":48.1,"v":0.004},{"t":48.2,"v":-0.004},{"t":48.3,"v":0.005},{"t":48.4,"v":-0.003},{"t":48.5,"v":0.004},{"t":48.6,"v":-0.005},{"t":48.7,"v":0.006},{"t":48.8,"v":-0.004},{"t":48.9,"v":0.005},{"t":49.0,"v":0.0}],
"c":[{"t":0,"v":-0.01},{"t":0.013,"v":-0.12},{"t":0.046,"v":0.55},{"t":0.082,"v":0.0},{"t":0.125,"v":0.58},{"t":0.153,"v":0.43},{"t":0.189,"v":-0.12},{"t":0.218,"v":0.08},{"t":0.251,"v":-0.38},{"t":0.279,"v":-0.18},{"t":0.347,"v":-0.42},{"t":0.382,"v":-0.3},{"t":0.418,"v":0.45},{"t":0.447,"v":0.05},{"t":0.48,"v":0.89},{"t":0.511,"v":0.15},{"t":0.569,"v":0.1},{"t":0.612,"v":-0.5},{"t":0.655,"v":-0.23},{"t":0.697,"v":-0.2},{"t":0.723,"v":-0.24},{"t":0.755,"v":0.04},{"t":0.773,"v":-0.02},{"t":0.819,"v":0.97},{"t":0.855,"v":0.29},{"t":0.884,"v":0.22},{"t":0.905,"v":0.1},{"t":0.934,"v":0.15},{"t":0.955,"v":-0.01},{"t":0.998,"v":-0.66},{"t":1.027,"v":-0.45},{"t":1.056,"v":-0.13},{"t":1.084,"v":-0.38},{"t":1.116,"v":0.04},{"t":1.134,"v":0.03},{"t":1.173,"v":0.51},{"t":1.213,"v":0.36},{"t":1.253,"v":0.13},{"t":1.27,"v":0.11},{"t":1.342,"v":-0.66},{"t":1.371,"v":-0.19},{"t":1.402,"v":-0.45},{"t":1.435,"v":-0.24},{"t":1.457,"v":-0.17},{"t":1.483,"v":0.2},{"t":1.507,"v":0.11},{"t":1.54,"v":0.55},{"t":1.571,"v":0.32},{"t":1.586,"v":0.25},{"t":1.629,"v":0.2},{"t":1.679,"v":-0.5},{"t":1.718,"v":-0.28},{"t":1.75,"v":-0.47},{"t":1.822,"v":0.13},{"t":1.844,"v":0.03},{"t":1.884,"v":0.53},{"t":1.922,"v":0.29},{"t":1.965,"v":0.2},{"t":2.004,"v":-0.08},{"t":2.03,"v":-0.13},{"t":2.066,"v":-0.45},{"t":2.101,"v":-0.33},{"t":2.13,"v":-0.31},{"t":2.184,"v":0.1},{"t":2.205,"v":0.08},{"t":2.245,"v":0.69},{"t":2.288,"v":0.18},{"t":2.309,"v":0.17},{"t":2.345,"v":0.25},{"t":2.41,"v":-0.52},{"t":2.452,"v":-0.44},{"t":2.485,"v":-0.59},{"t":2.557,"v":0.29},{"t":2.574,"v":0.2},{"t":2.614,"v":0.6},{"t":2.653,"v":0.2},{"t":2.677,"v":0.27},{"t":2.717,"v":0.13},{"t":2.779,"v":-0.63},{"t":2.81,"v":-0.18},{"t":2.849,"v":-0.84},{"t":2.896,"v":-0.25},{"t":2.944,"v":0.48},{"t":2.978,"v":0.18},{"t":3.015,"v":0.64},{"t":3.047,"v":0.22},{"t":3.065,"v":0.29},{"t":3.107,"v":-0.66},{"t":3.147,"v":-0.24},{"t":3.197,"v":-0.75},{"t":3.248,"v":0.01},{"t":3.288,"v":0.53},{"t":3.312,"v":0.32},{"t":3.351,"v":0.89},{"t":3.383,"v":0.29},{"t":3.412,"v":0.38},{"t":3.441,"v":0.08},{"t":3.491,"v":-0.61},{"t":3.523,"v":-0.13},{"t":3.545,"v":0.03}],
"d":[{"t":0,"v":0.0},{"t":0.1,"v":0.02},{"t":0.19,"v":0.076},{"t":0.25,"v":0.0},{"t":0.35,"v":-0.02},{"t":0.5,"v":0.01},{"t":0.66,"v":0.045},{"t":0.8,"v":0.02},{"t":1.0,"v":0.0},{"t":1.2,"v":-0.01},{"t":1.5,"v":0.0},{"t":1.8,"v":-0.01},{"t":2.1,"v":0.0},{"t":2.4,"v":-0.01},{"t":2.8,"v":-0.005},{"t":3.2,"v":-0.01},{"t":3.5,"v":0.0},{"t":3.6,"v":0.03},{"t":3.65,"v":-0.02},{"t":3.7,"v":0.05},{"t":3.75,"v":-0.03},{"t":3.8,"v":0.04},{"t":3.85,"v":-0.05},{"t":3.9,"v":0.03},{"t":3.95,"v":-0.04},{"t":4.0,"v":0.02},{"t":4.05,"v":-0.05},{"t":4.1,"v":0.0},{"t":4.2,"v":-0.03},{"t":4.4,"v":-0.01},{"t":4.7,"v":0.0},{"t":5.0,"v":0.0},{"t":5.1,"v":0.045},{"t":5.2,"v":0.0},{"t":5.4,"v":-0.015},{"t":5.8,"v":-0.01},{"t":6.2,"v":-0.005},{"t":6.6,"v":-0.01},{"t":7.0,"v":-0.005},{"t":7.3,"v":0.0},{"t":7.4,"v":0.04},{"t":7.5,"v":0.01},{"t":7.8,"v":0.0},{"t":8.0,"v":-0.01},{"t":8.3,"v":-0.015},{"t":8.7,"v":-0.01},{"t":9.0,"v":-0.005},{"t":9.4,"v":-0.01},{"t":9.8,"v":0.0},{"t":10.2,"v":-0.008},{"t":10.6,"v":-0.004},{"t":11.0,"v":-0.01},{"t":11.4,"v":-0.005},{"t":11.8,"v":-0.01},{"t":12.2,"v":-0.004},{"t":12.6,"v":-0.01},{"t":13.0,"v":-0.005},{"t":13.2,"v":-0.02},{"t":13.4,"v":-0.01},{"t":13.8,"v":-0.008},{"t":14.2,"v":-0.01},{"t":14.5,"v":-0.005},{"t":14.7,"v":-0.02},{"t":14.85,"v":0.02},{"t":14.95,"v":-0.06},{"t":15.05,"v":0.04},{"t":15.1,"v":-0.03},{"t":15.15,"v":0.07},{"t":15.2,"v":0.0},{"t":15.25,"v":0.1},{"t":15.3,"v":0.02},{"t":15.35,"v":0.15},{"t":15.4,"v":0.25},{"t":15.45,"v":0.45},{"t":15.5,"v":0.59},{"t":15.53,"v":0.45},{"t":15.56,"v":0.3},{"t":15.6,"v":0.18},{"t":15.63,"v":0.08},{"t":15.67,"v":0.14},{"t":15.72,"v":0.03},{"t":15.77,"v":0.08},{"t":15.82,"v":-0.05},{"t":15.87,"v":0.02},{"t":15.92,"v":-0.12},{"t":15.97,"v":-0.18},{"t":16.02,"v":-0.12},{"t":16.1,"v":-0.06},{"t":16.2,"v":-0.03},{"t":16.35,"v":0.0},{"t":16.5,"v":0.02},{"t":16.65,"v":0.0},{"t":16.8,"v":0.01},
{"t":17.0,"v":0.06},{"t":17.08,"v":-0.01},{"t":17.2,"v":0.02},{"t":17.35,"v":0.0},{"t":17.5,"v":0.055},{"t":17.58,"v":-0.01},{"t":17.7,"v":0.02},{"t":17.85,"v":0.0},{"t":18.0,"v":0.06},{"t":18.08,"v":-0.01},{"t":18.2,"v":0.02},{"t":18.35,"v":0.0},{"t":18.5,"v":0.06},{"t":18.58,"v":-0.01},{"t":18.7,"v":0.02},{"t":18.85,"v":0.0},{"t":19.0,"v":0.065},{"t":19.08,"v":-0.01},{"t":19.2,"v":0.02},{"t":19.35,"v":0.0},{"t":19.5,"v":0.06},{"t":19.58,"v":-0.01},{"t":19.7,"v":0.02},{"t":19.85,"v":0.0},{"t":20.0,"v":0.065},{"t":20.08,"v":-0.01},{"t":20.18,"v":0.01},{"t":20.35,"v":0.13},{"t":20.43,"v":-0.02},{"t":20.55,"v":0.03},{"t":20.7,"v":0.0},{"t":20.85,"v":0.09},{"t":20.93,"v":-0.01},{"t":21.05,"v":0.02},{"t":21.2,"v":0.0},{"t":21.3,"v":0.07},{"t":21.38,"v":-0.01},{"t":21.5,"v":0.02},{"t":21.65,"v":0.0},{"t":21.8,"v":0.08},{"t":21.88,"v":-0.01},{"t":22.0,"v":0.02},{"t":22.15,"v":0.0},{"t":22.3,"v":0.07},{"t":22.38,"v":-0.01},{"t":22.5,"v":0.02},{"t":22.65,"v":0.0},{"t":22.8,"v":0.075},{"t":22.88,"v":-0.01},{"t":23.0,"v":0.02},{"t":23.15,"v":0.0},{"t":23.3,"v":0.06},{"t":23.38,"v":-0.01},{"t":23.5,"v":0.02},{"t":23.65,"v":0.0},{"t":23.8,"v":0.055},{"t":23.88,"v":-0.01},{"t":24.0,"v":0.02},{"t":24.15,"v":0.0},{"t":24.3,"v":0.05},{"t":24.38,"v":-0.01},{"t":24.5,"v":0.02},{"t":24.65,"v":0.0},{"t":24.8,"v":0.05},{"t":24.88,"v":-0.01},{"t":25.0,"v":0.02},{"t":25.15,"v":0.0},{"t":25.3,"v":0.045},{"t":25.38,"v":-0.01},{"t":25.5,"v":0.02},{"t":25.65,"v":0.0},{"t":25.8,"v":0.045},{"t":25.88,"v":-0.01},{"t":26.0,"v":0.02},{"t":26.15,"v":0.0},{"t":26.3,"v":0.05},{"t":26.38,"v":-0.01},{"t":26.5,"v":0.02},{"t":26.65,"v":0.0},{"t":26.8,"v":0.04},{"t":26.88,"v":-0.01},{"t":27.0,"v":0.02},{"t":27.15,"v":0.0},{"t":27.3,"v":0.04},{"t":27.38,"v":-0.01},{"t":27.5,"v":0.02},{"t":27.65,"v":0.0},{"t":27.8,"v":0.035},{"t":27.88,"v":-0.01},{"t":28.0,"v":0.015},{"t":28.15,"v":0.0},{"t":28.3,"v":0.035},{"t":28.38,"v":-0.01},{"t":28.5,"v":0.015},{"t":28.65,"v":0.0},{"t":28.8,"v":0.04},{"t":28.88,"v":-0.01},{"t":29.0,"v":0.02},{"t":29.15,"v":0.0},{"t":29.3,"v":0.04},{"t":29.38,"v":-0.01},{"t":29.5,"v":0.02},{"t":29.65,"v":0.0},{"t":29.8,"v":0.05},{"t":29.88,"v":-0.01},{"t":30.0,"v":0.02},{"t":30.15,"v":0.0},{"t":30.3,"v":0.045},{"t":30.38,"v":-0.01},{"t":30.5,"v":0.02},{"t":30.65,"v":0.0},{"t":30.8,"v":0.04},{"t":30.88,"v":-0.01},{"t":31.0,"v":0.02},{"t":31.15,"v":0.0},{"t":31.3,"v":0.045},{"t":31.38,"v":-0.01},{"t":31.5,"v":0.02},{"t":31.65,"v":0.0},{"t":31.8,"v":0.04},{"t":31.88,"v":-0.01},{"t":32.0,"v":0.015},
{"t":32.2,"v":0.01},{"t":32.5,"v":0.015},{"t":32.8,"v":0.01},{"t":32.95,"v":0.0},{"t":33.05,"v":0.2},{"t":33.12,"v":-0.03},{"t":33.22,"v":0.03},{"t":33.3,"v":0.0},
{"t":33.4,"v":0.08},{"t":33.47,"v":-0.02},{"t":33.57,"v":0.03},{"t":33.66,"v":0.0},{"t":33.75,"v":0.07},{"t":33.82,"v":-0.03},{"t":33.92,"v":0.03},{"t":34.01,"v":0.0},{"t":34.1,"v":0.09},{"t":34.17,"v":-0.02},{"t":34.27,"v":0.03},{"t":34.36,"v":0.0},{"t":34.45,"v":0.07},{"t":34.52,"v":-0.03},{"t":34.62,"v":0.03},{"t":34.71,"v":0.0},{"t":34.8,"v":0.08},{"t":34.87,"v":-0.02},{"t":34.97,"v":0.03},{"t":35.06,"v":0.0},{"t":35.15,"v":0.09},{"t":35.22,"v":-0.03},{"t":35.32,"v":0.03},{"t":35.41,"v":0.0},{"t":35.5,"v":0.07},{"t":35.57,"v":-0.02},{"t":35.67,"v":0.03},{"t":35.76,"v":0.0},{"t":35.85,"v":0.08},{"t":35.92,"v":-0.03},{"t":36.02,"v":0.03},{"t":36.11,"v":0.0},{"t":36.35,"v":0.13},{"t":36.42,"v":-0.04},{"t":36.52,"v":0.03},{"t":36.61,"v":0.0},{"t":36.7,"v":0.08},{"t":36.77,"v":-0.03},{"t":36.87,"v":0.03},{"t":36.96,"v":0.0},{"t":37.05,"v":0.07},{"t":37.12,"v":-0.02},{"t":37.22,"v":0.03},{"t":37.31,"v":0.0},{"t":37.4,"v":0.08},{"t":37.47,"v":-0.03},{"t":37.57,"v":0.03},{"t":37.66,"v":0.0},{"t":37.75,"v":0.07},{"t":37.82,"v":-0.02},{"t":37.92,"v":0.03},{"t":38.01,"v":0.0},{"t":38.1,"v":0.09},{"t":38.17,"v":-0.03},{"t":38.27,"v":0.03},{"t":38.36,"v":0.0},{"t":38.45,"v":0.1},{"t":38.52,"v":-0.04},{"t":38.62,"v":0.03},{"t":38.71,"v":0.0},{"t":38.8,"v":0.11},{"t":38.87,"v":-0.04},{"t":38.97,"v":0.03},{"t":39.06,"v":0.0},{"t":39.15,"v":0.09},{"t":39.22,"v":-0.03},{"t":39.32,"v":0.03},{"t":39.41,"v":0.0},{"t":39.5,"v":0.1},{"t":39.57,"v":-0.04},{"t":39.67,"v":0.03},{"t":39.76,"v":0.0},{"t":39.85,"v":0.08},{"t":39.92,"v":-0.03},{"t":40.02,"v":0.03},{"t":40.11,"v":0.0},{"t":40.2,"v":0.05},{"t":40.27,"v":-0.01},{"t":40.37,"v":0.02},
{"t":40.5,"v":0.01},{"t":40.8,"v":0.02},{"t":41.1,"v":0.01},{"t":41.4,"v":0.0},{"t":41.6,"v":0.03},
{"t":41.8,"v":0.1},{"t":41.86,"v":-0.06},{"t":41.92,"v":0.05},{"t":42.0,"v":-0.03},{"t":42.07,"v":0.01},{"t":42.15,"v":0.18},{"t":42.21,"v":-0.08},{"t":42.27,"v":0.09},{"t":42.35,"v":-0.04},{"t":42.42,"v":0.01},{"t":42.5,"v":0.1},{"t":42.56,"v":-0.05},{"t":42.62,"v":0.05},{"t":42.7,"v":-0.025},{"t":42.77,"v":0.01},{"t":42.85,"v":0.18},{"t":42.91,"v":-0.15},{"t":42.97,"v":0.09},{"t":43.05,"v":-0.07},{"t":43.12,"v":0.01},{"t":43.2,"v":0.12},{"t":43.26,"v":-0.06},{"t":43.32,"v":0.06},{"t":43.4,"v":-0.03},{"t":43.47,"v":0.01},{"t":43.55,"v":0.11},{"t":43.61,"v":-0.05},{"t":43.67,"v":0.055},{"t":43.75,"v":-0.025},{"t":43.82,"v":0.01},{"t":43.9,"v":0.1},{"t":43.96,"v":-0.05},{"t":44.02,"v":0.05},{"t":44.1,"v":-0.025},{"t":44.17,"v":0.01},{"t":44.25,"v":0.12},{"t":44.31,"v":-0.04},{"t":44.37,"v":0.06},{"t":44.45,"v":-0.02},{"t":44.52,"v":0.01},{"t":44.6,"v":0.11},{"t":44.66,"v":-0.05},{"t":44.72,"v":0.055},{"t":44.8,"v":-0.025},{"t":44.87,"v":0.01},{"t":44.95,"v":0.12},{"t":45.01,"v":-0.04},{"t":45.07,"v":0.06},{"t":45.15,"v":-0.02},{"t":45.22,"v":0.01},{"t":45.3,"v":0.1},{"t":45.36,"v":-0.05},{"t":45.42,"v":0.05},{"t":45.5,"v":-0.025},{"t":45.57,"v":0.01},{"t":45.65,"v":0.13},{"t":45.71,"v":-0.04},{"t":45.77,"v":0.065},{"t":45.85,"v":-0.02},{"t":45.92,"v":0.01},{"t":46.0,"v":0.1},{"t":46.06,"v":-0.05},{"t":46.12,"v":0.05},{"t":46.2,"v":-0.025},{"t":46.27,"v":0.01},{"t":46.35,"v":0.12},{"t":46.41,"v":-0.04},{"t":46.47,"v":0.06},{"t":46.55,"v":-0.02},{"t":46.62,"v":0.01},{"t":46.7,"v":0.11},{"t":46.76,"v":-0.05},{"t":46.82,"v":0.055},{"t":46.9,"v":-0.025},{"t":46.97,"v":0.01},{"t":47.05,"v":0.1},{"t":47.11,"v":-0.04},{"t":47.17,"v":0.05},{"t":47.25,"v":-0.02},{"t":47.32,"v":0.01},{"t":47.4,"v":0.11},{"t":47.46,"v":-0.05},{"t":47.52,"v":0.055},{"t":47.6,"v":-0.025},{"t":47.67,"v":0.01},{"t":47.75,"v":0.08},{"t":47.81,"v":-0.04},{"t":47.87,"v":0.04},{"t":47.95,"v":-0.02},{"t":48.02,"v":0.01},{"t":48.1,"v":0.07},{"t":48.16,"v":-0.03},{"t":48.22,"v":0.035},{"t":48.3,"v":-0.015},{"t":48.37,"v":0.01},
{"t":48.45,"v":0.02},{"t":48.55,"v":0.08},{"t":48.65,"v":0.23},{"t":48.7,"v":0.05},{"t":48.75,"v":0.18},{"t":48.8,"v":-0.05},{"t":48.85,"v":0.1},{"t":48.9,"v":-0.1},{"t":48.95,"v":0.02},{"t":49.0,"v":-0.15},{"t":49.1,"v":-0.18},{"t":49.2,"v":-0.1},{"t":49.35,"v":-0.06},{"t":49.5,"v":-0.03},{"t":49.7,"v":-0.01},{"t":50.0,"v":0.0},{"t":50.3,"v":0.01},{"t":50.6,"v":0.005},{"t":50.9,"v":0.0},{"t":51.15,"v":0.0}],
"starB":[{"t":2.12,"v":0.0492}],
"starD":[{"t":15.5,"v":0.592}],
"arrB":[{"t":12.98,"v":0.0312,"s":"↓"},{"t":16.5,"v":0.0312,"s":"↓"}],
"arrD":[{"t":26.39,"v":0.136,"s":"↓"},{"t":29.9,"v":0.136,"s":"↓"}]
},
"vconcat":[
{"title":{"text":"a) High Freq. Masseter Activity"},"width":825,"height":85,
"resolve":{"axis":{"x":"independent","y":"independent"}},
"layer":[
{"data":{"name":"a"},"mark":{"type":"line","color":"#2f44a3","strokeWidth":1.3,"clip":true},
"encoding":{"x":{"field":"t","type":"quantitative","scale":{"domain":[0,51.15],"nice":false,"zero":false},"axis":{"values":[5,10,15,20,25,30,35,40,45,50],"format":"~g","title":"(s)"}},
"y":{"field":"v","type":"quantitative","scale":{"domain":[-1.69,2.5],"nice":false,"zero":false},"axis":{"values":[-1,0,1,2],"format":"~g","title":"Rel. Amp."}}}},
{"data":{"values":[{}]},"mark":{"type":"point","opacity":0},
"encoding":{"x":{"datum":1,"type":"quantitative","axis":{"orient":"top","values":[5,10,15,20,25,30,35,40,45,50],"labels":false,"title":null}},
"y":{"datum":0,"type":"quantitative","axis":{"orient":"right","values":[-1,0,1,2],"labels":false,"title":null}}}}
]},
{"title":{"text":"b) High Freq. Speech Activity"},"width":825,"height":85,
"resolve":{"axis":{"x":"independent","y":"independent"}},
"layer":[
{"data":{"name":"b"},"mark":{"type":"line","color":"#2f44a3","strokeWidth":1.7,"clip":true},
"encoding":{"x":{"field":"t","type":"quantitative","scale":{"domain":[0,49],"nice":false,"zero":false},"axis":{"values":[5,10,15,20,25,30,35,40,45],"format":"~g","title":"(s)"}},
"y":{"field":"v","type":"quantitative","scale":{"domain":[-0.0273,0.0503],"nice":false,"zero":false},"axis":{"values":[-0.02,0,0.02,0.04],"format":"~g","title":"Rel. Amp."}}}},
{"data":{"values":[{}]},"mark":{"type":"point","opacity":0},
"encoding":{"x":{"datum":1,"type":"quantitative","axis":{"orient":"top","values":[5,10,15,20,25,30,35,40,45],"labels":false,"title":null}},
"y":{"datum":0,"type":"quantitative","axis":{"orient":"right","values":[-0.02,0,0.02,0.04],"labels":false,"title":null}}}},
{"data":{"name":"arrB"},"mark":{"type":"text","font":"DejaVu Sans","fontSize":20,"color":"#000","baseline":"middle","align":"center"},
"encoding":{"x":{"field":"t","type":"quantitative","axis":null},"y":{"field":"v","type":"quantitative","axis":null},"text":{"field":"s"}}},
{"data":{"name":"starB"},"mark":{"type":"point","shape":"M-1,0L1,0M0,-1L0,1M-0.7,-0.7L0.7,0.7M-0.7,0.7L0.7,-0.7","filled":false,"color":"#ff3a2a","strokeWidth":1.2,"size":64,"opacity":1,"clip":false},
"encoding":{"x":{"field":"t","type":"quantitative","axis":null},"y":{"field":"v","type":"quantitative","axis":null}}}
]},
{"title":{"text":"c) Low Freq. Vert. Vel."},"width":825,"height":85,
"resolve":{"axis":{"x":"independent","y":"independent"}},
"layer":[
{"data":{"name":"c"},"mark":{"type":"line","color":"#4056c6","strokeWidth":1,"clip":true,"interpolate":"monotone"},
"encoding":{"x":{"field":"t","type":"quantitative","scale":{"domain":[0,3.545],"nice":false,"zero":false},"axis":{"values":[0.5,1,1.5,2,2.5,3,3.5],"format":"~g","title":"(s)"}},
"y":{"field":"v","type":"quantitative","scale":{"domain":[-0.82,0.98],"nice":false,"zero":false},"axis":{"values":[-0.5,0,0.5],"format":"~g","title":"Rel. Amp."}}}},
{"data":{"values":[{}]},"mark":{"type":"point","opacity":0},
"encoding":{"x":{"datum":1,"type":"quantitative","axis":{"orient":"top","values":[0.5,1,1.5,2,2.5,3,3.5],"labels":false,"title":null}},
"y":{"datum":0,"type":"quantitative","axis":{"orient":"right","values":[-0.5,0,0.5],"labels":false,"title":null}}}}
]},
{"title":{"text":"d) Low Freq. Masseter Activity"},"width":825,"height":85,
"resolve":{"axis":{"x":"independent","y":"independent"}},
"layer":[
{"data":{"name":"d"},"mark":{"type":"line","color":"#2f44a3","strokeWidth":1.3,"clip":true},
"encoding":{"x":{"field":"t","type":"quantitative","scale":{"domain":[0,51.15],"nice":false,"zero":false},"axis":{"values":[5,10,15,20,25,30,35,40,45,50],"format":"~g","title":"(s)"}},
"y":{"field":"v","type":"quantitative","scale":{"domain":[-0.175,0.595],"nice":false,"zero":false},"axis":{"values":[0,0.2,0.4],"format":"~g","title":"Rel. Amp."}}}},
{"data":{"values":[{}]},"mark":{"type":"point","opacity":0},
"encoding":{"x":{"datum":1,"type":"quantitative","axis":{"orient":"top","values":[5,10,15,20,25,30,35,40,45,50],"labels":false,"title":null}},
"y":{"datum":0,"type":"quantitative","axis":{"orient":"right","values":[0,0.2,0.4],"labels":false,"title":null}}}},
{"data":{"name":"arrD"},"mark":{"type":"text","font":"DejaVu Sans","fontSize":20,"color":"#000","baseline":"middle","align":"center"},
"encoding":{"x":{"field":"t","type":"quantitative","axis":null},"y":{"field":"v","type":"quantitative","axis":null},"text":{"field":"s"}}},
{"data":{"name":"starD"},"mark":{"type":"point","shape":"M-1,0L1,0M0,-1L0,1M-0.7,-0.7L0.7,0.7M-0.7,0.7L0.7,-0.7","filled":false,"color":"#ff3a2a","strokeWidth":1.2,"size":64,"opacity":1,"clip":false},
"encoding":{"x":{"field":"t","type":"quantitative","axis":null},"y":{"field":"v","type":"quantitative","axis":null}}}
]}
]
}
